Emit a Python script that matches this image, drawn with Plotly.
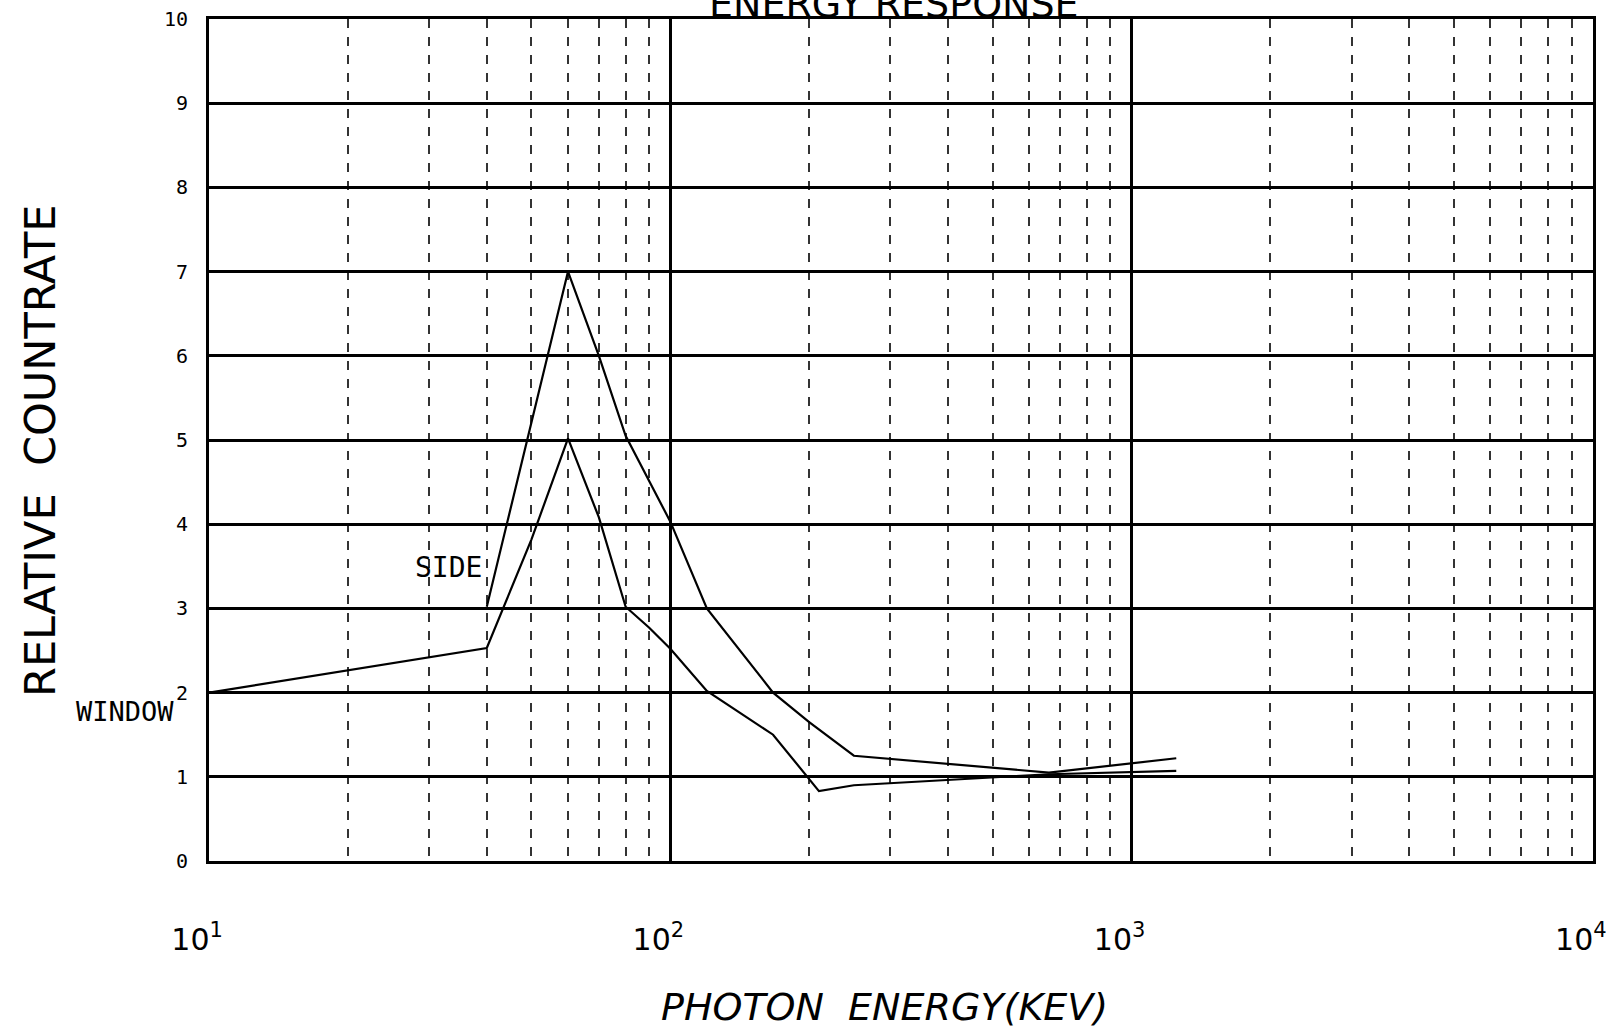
import plotly.graph_objects as go
import math

# ---- data ----
energy_side = [40, 50, 60, 70, 80, 100, 120, 167, 200, 250, 662, 1250]
countrate_side = [3.02, 5.2, 7.0, 6.0, 5.05, 4.03, 3.0, 2.0, 1.65, 1.25, 1.05, 1.22]

energy_window = [10, 40, 50, 60, 70, 80, 90, 100, 120, 167, 210, 250, 662, 1250]
countrate_window = [2.0, 2.53, 3.82, 5.02, 4.08, 3.02, 2.77, 2.52, 2.02, 1.5, 0.83, 0.9, 1.03, 1.07]

x_tickvals = [10, 100, 1000, 10000]
x_ticktext = ["10<sup>1</sup>", "10<sup>2</sup>", "10<sup>3</sup>", "10<sup>4</sup>"]
y_tickvals = list(range(0, 11))
y_ticktext = [str(v) for v in y_tickvals]

title_text = "ENERGY RESPONSE"
x_title = "PHOTON  ENERGY(KEV)"
y_title = "RELATIVE  COUNTRATE"

W, H = 1606, 1033
L, R, T, B = 209, 13, 19, 172

fig = go.Figure()
fig.add_trace(go.Scatter(x=energy_side, y=countrate_side, mode="lines",
                         line=dict(color="black", width=2.2), name="SIDE",
                         showlegend=False))
fig.add_trace(go.Scatter(x=energy_window, y=countrate_window, mode="lines",
                         line=dict(color="black", width=2.2), name="WINDOW",
                         showlegend=False))

tick_font = dict(family="DejaVu Sans Mono", size=20, color="black")

fig.update_layout(
    template="none",
    width=W, height=H,
    margin=dict(l=L, r=R, t=T, b=B, pad=0, autoexpand=False),
    paper_bgcolor="white", plot_bgcolor="white",
    xaxis=dict(
        type="log", range=[0.9998, 4.0004], automargin=False,
        tickvals=x_tickvals, ticktext=x_ticktext,
        tickfont=dict(family="DejaVu Sans", size=30, color="black"),
        ticks="", ticklabelstandoff=50, ticklabelshift=-12,
        ticklabeloverflow="allow",
        showgrid=True, gridcolor="black", gridwidth=2.5,
        showline=True, linecolor="black", linewidth=3, mirror=True,
        zeroline=False,
        minor=dict(dtick="D1", showgrid=True, gridcolor="#333333",
                   gridwidth=1.5, griddash="dash", ticks=""),
    ),
    yaxis=dict(
        range=[0, 10], tickvals=y_tickvals, ticktext=y_ticktext, automargin=False,
        tickfont=tick_font, ticks="", ticklabelstandoff=14,
        showgrid=True, gridcolor="black", gridwidth=2.5,
        showline=True, linecolor="black", linewidth=3, mirror=True,
        zeroline=False,
    ),
)

plot_h = H - T - B
plot_w = W - L - R

def paper_y(py):
    return (H - B - py) / plot_h

def paper_x(px):
    return (px - L) / plot_w

annotations = [
    dict(text=title_text, xref="paper", yref="paper", x=paper_x(894), y=paper_y(4),
         xanchor="center", yanchor="middle", showarrow=False,
         font=dict(family="DejaVu Sans", size=38, color="black")),
    dict(text=x_title, xref="paper", yref="paper", x=paper_x(884), y=paper_y(1007),
         xanchor="center", yanchor="middle", showarrow=False,
         font=dict(family="DejaVu Sans", size=38, color="black", style="italic")),
    dict(text=y_title, xref="paper", yref="paper", x=paper_x(40), y=paper_y(451),
         xanchor="center", yanchor="middle", showarrow=False, textangle=-90,
         font=dict(family="DejaVu Sans", size=43, color="black")),
    dict(text="SIDE", xref="x", yref="y", x=math.log10(energy_side[0]) - 0.005, y=3.48,
         xanchor="right", yanchor="middle", showarrow=False,
         font=dict(family="DejaVu Sans Mono", size=28, color="black")),
    dict(text="WINDOW", xref="paper", yref="y", x=paper_x(176), y=1.78,
         xanchor="right", yanchor="middle", showarrow=False,
         font=dict(family="DejaVu Sans Mono", size=27, color="black")),
]
fig.update_layout(annotations=annotations)

fig.write_html("out.html", config={"displayModeBar": False},
               post_script="document.body.style.margin='0';")
